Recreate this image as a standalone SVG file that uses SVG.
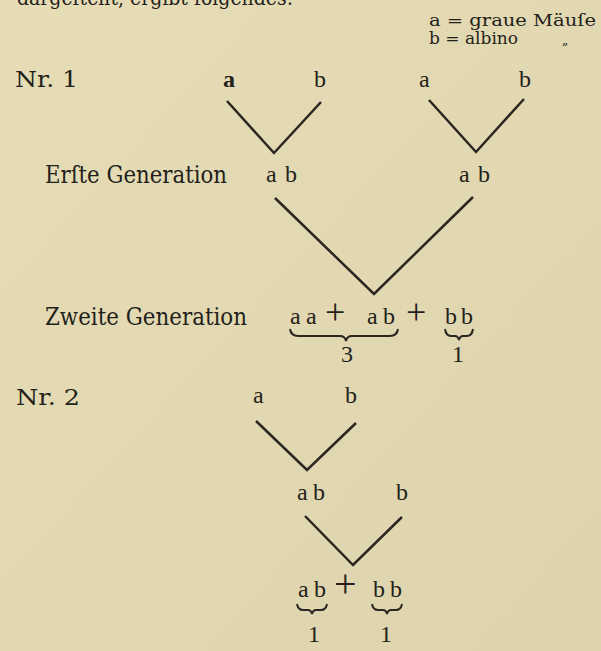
<svg xmlns="http://www.w3.org/2000/svg" width="601" height="651" viewBox="0 0 601 651">
<defs>
<linearGradient id="bg" x1="0" y1="0" x2="1" y2="1">
<stop offset="0" stop-color="#e6dcb6"/>
<stop offset="1" stop-color="#ddd3ad"/>
</linearGradient>
<style>
.frak{font-family:"DejaVu Serif","Liberation Serif",serif;fill:#231f1a}
.rom{font-family:"Liberation Serif","DejaVu Serif",serif;fill:#231f1a;font-size:24px}
.plus{font-family:"Liberation Serif",serif;fill:#231f1a}
.ln{fill:none;stroke:#2a2622;stroke-width:2.5;stroke-linecap:butt;stroke-linejoin:miter}
.br{fill:none;stroke:#2a2622;stroke-width:2}
</style>
</defs>
<rect width="601" height="651" fill="url(#bg)"/>

<g id="header">
<text class="frak" x="17" y="5" font-size="20" textLength="276" lengthAdjust="spacingAndGlyphs">dargeſtellt, ergibt folgendes:</text>
</g>

<g id="legend">
<text class="frak" x="429" y="26" font-size="16" textLength="167" lengthAdjust="spacingAndGlyphs">a = graue Mäuſe</text>
<text class="frak" x="429" y="44" font-size="16" textLength="89" lengthAdjust="spacingAndGlyphs">b = albino</text>
<text class="frak" x="562" y="44" font-size="12">„</text>
</g>

<g id="labels">
<text class="frak" x="15" y="87" font-size="22" textLength="63" lengthAdjust="spacingAndGlyphs">Nr. 1</text>
<text class="frak" x="45" y="183" font-size="24" textLength="182" lengthAdjust="spacingAndGlyphs">Erſte Generation</text>
<text class="frak" x="45" y="325" font-size="24" textLength="202" lengthAdjust="spacingAndGlyphs">Zweite Generation</text>
<text class="frak" x="16" y="405" font-size="22" textLength="64" lengthAdjust="spacingAndGlyphs">Nr. 2</text>
</g>

<g id="p1-a1"><text class="rom" x="223" y="87" font-weight="bold">a</text></g>
<g id="p1-b1"><text class="rom" x="314" y="87">b</text></g>
<g id="p1-a2"><text class="rom" x="419" y="87">a</text></g>
<g id="p1-b2"><text class="rom" x="519" y="87">b</text></g>
<g id="f1-ab1"><text class="rom" x="266 276 285" y="182">a b</text></g>
<g id="f1-ab2"><text class="rom" x="459 469 478" y="182">a b</text></g>
<g id="f2">
<text class="rom" y="324"><tspan x="290">a</tspan><tspan x="306">a</tspan><tspan x="318"> </tspan><tspan class="plus" x="325" font-size="36">+</tspan><tspan x="350"> </tspan><tspan x="367">a</tspan><tspan x="383">b</tspan><tspan x="396"> </tspan><tspan class="plus" x="406" font-size="36">+</tspan><tspan x="430"> </tspan><tspan x="445">b</tspan><tspan x="461">b</tspan></text>
<path class="br" d="M290,329 Q291,336 298,336 L340,336 Q345,336 346,341 Q347,336 352,336 L390,336 Q397,336 398,329"/>
<path class="br" d="M445,329 Q446,336 451,336 L455,336 Q458,336 459,340 Q460,336 463,336 L467,336 Q472,336 473,329"/>
<text class="rom" x="341" y="362">3</text>
<text class="rom" x="452" y="362">1</text>
</g>

<g id="p2-a"><text class="rom" x="253" y="403">a</text></g>
<g id="p2-b"><text class="rom" x="345" y="403">b</text></g>
<g id="p2-ab"><text class="rom" y="500"><tspan x="297">a</tspan><tspan x="313">b</tspan></text></g>
<g id="p2-b2"><text class="rom" x="396" y="500">b</text></g>
<g id="p2-f">
<text class="rom" y="597"><tspan x="298">a</tspan><tspan x="314">b</tspan><tspan x="327"> </tspan><tspan class="plus" x="334" font-size="40">+</tspan><tspan x="362"> </tspan><tspan x="373">b</tspan><tspan x="390">b</tspan></text>
<path class="br" d="M297,604 Q298,610 303,610 L308,610 Q311,610 312,614 Q313,610 316,610 L321,610 Q326,610 327,604"/>
<path class="br" d="M372,604 Q373,610 378,610 L383,610 Q386,610 387,614 Q388,610 391,610 L396,610 Q401,610 402,604"/>
<text class="rom" x="308" y="642">1</text>
<text class="rom" x="380" y="642">1</text>
</g>

<g id="connectors">
<polyline class="ln" points="227,101 274,153 321,102"/>
<polyline class="ln" points="429,100 476,152 524,99"/>
<polyline class="ln" points="275,198 374,294 473,197"/>
<polyline class="ln" points="256,421 307,470 356,423"/>
<polyline class="ln" points="305,516 353,565 402,517"/>
</g>
</svg>
